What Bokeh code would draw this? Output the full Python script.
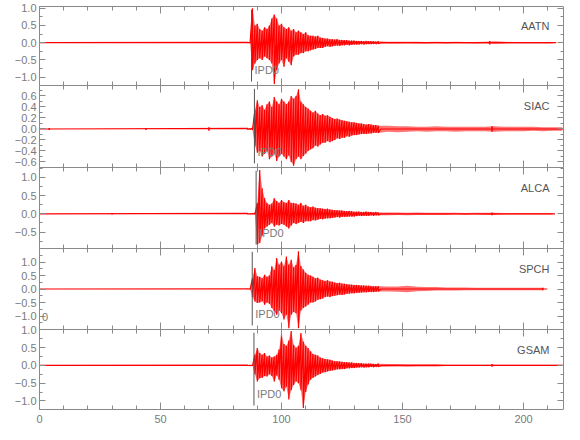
from bokeh.plotting import figure
from bokeh.layouts import column
from bokeh.models import Range1d, FixedTicker, LinearAxis, Label, CustomJSTickFormatter
from bokeh.embed import file_html
from bokeh.resources import INLINE

# ---------------- data ----------------
STATIONS = ["AATN", "SIAC", "ALCA", "SPCH", "GSAM"]
PICK_LABEL = "IPD0"
PICK_TIMES = [87.6, 88.8, 89.5, 87.9, 88.6]
TRACE_END = [213.5, 216.5, 213.0, 209.8, 216.5]
X_LIMITS = (0, 216.5)
X_TICKS = [0, 50, 100, 150, 200]
X_MINOR = [10, 20, 30, 40, 60, 70, 80, 90, 110, 120, 130, 140, 160, 170, 180, 190, 210]

Y_LIMITS = [(-1.24, 1.05), (-0.70, 0.79), (-0.95, 1.27), (-1.5, 1.5), (-1.24, 1.01)]
Y_MAJOR = [[-1.0, -0.5, 0.0, 0.5, 1.0],
           [-0.6, -0.4, -0.2, 0.0, 0.2, 0.4, 0.6],
           [-0.5, 0.0, 0.5, 1.0],
           [-1.0, -0.5, 0.0, 0.5, 1.0],
           [-1.0, -0.5, 0.0, 0.5, 1.0]]
Y_MINOR = [[-0.75, -0.25, 0.25, 0.75],
           [-0.5, -0.3, -0.1, 0.1, 0.3, 0.5, 0.7],
           [-0.75, -0.25, 0.25, 0.75, 1.25],
           [-1.25, -0.75, -0.25, 0.25, 0.75, 1.25],
           [-0.75, -0.25, 0.25, 0.75]]

# sample times of the amplitude readings (s): 1 s in the strong part, 4 s in the coda
TIMES = list(range(86, 141)) + list(range(144, 217, 4))
DENSE_END = 140

UP_AATN = [0.01, 0.02, 1.00, 0.50, 0.55, 0.40, 0.35, 0.45, 0.40, 0.50,
           0.70, 0.82, 0.70, 0.50, 0.55, 0.45, 0.40, 0.45, 0.35, 0.40,
           0.30, 0.35, 0.30, 0.25, 0.30, 0.22, 0.20, 0.20, 0.18, 0.20,
           0.15, 0.14, 0.12, 0.12, 0.10, 0.10, 0.09, 0.10, 0.08, 0.08,
           0.07, 0.07, 0.06, 0.06, 0.06, 0.05, 0.05, 0.05, 0.04, 0.05,
           0.04, 0.04, 0.04, 0.03, 0.04,
           0.03, 0.03, 0.03, 0.03, 0.02, 0.03, 0.02, 0.03, 0.02, 0.02,
           0.03, 0.04, 0.03, 0.02, 0.02, 0.02, 0.02, 0.02, 0.02]
DN_AATN = [-0.01, -0.02, -0.80, -0.60, -0.50, -0.45, -0.50, -0.40, -0.45, -0.50,
           -0.60, -1.20, -0.80, -0.60, -0.50, -0.70, -0.45, -0.55, -0.65, -0.40,
           -0.35, -0.35, -0.30, -0.30, -0.25, -0.25, -0.22, -0.20, -0.18, -0.15,
           -0.15, -0.15, -0.12, -0.10, -0.12, -0.10, -0.09, -0.08, -0.09, -0.07,
           -0.07, -0.06, -0.07, -0.06, -0.05, -0.05, -0.05, -0.04, -0.05, -0.04,
           -0.04, -0.04, -0.03, -0.04, -0.03,
           -0.03, -0.03, -0.02, -0.03, -0.03, -0.02, -0.03, -0.02, -0.02, -0.03,
           -0.02, -0.04, -0.03, -0.02, -0.02, -0.02, -0.02, -0.02, -0.02]

UP_SIAC = [0.01, 0.01, 0.02, 0.35, 0.52, 0.40, 0.43, 0.35, 0.45, 0.50,
           0.40, 0.58, 0.50, 0.45, 0.55, 0.50, 0.45, 0.50, 0.60, 0.55,
           0.60, 0.72, 0.50, 0.45, 0.40, 0.37, 0.33, 0.30, 0.33, 0.28,
           0.25, 0.27, 0.24, 0.25, 0.22, 0.20, 0.18, 0.19, 0.17, 0.16,
           0.15, 0.14, 0.13, 0.12, 0.12, 0.11, 0.10, 0.10, 0.09, 0.08,
           0.09, 0.08, 0.07, 0.07, 0.06,
           0.06, 0.05, 0.05, 0.04, 0.04, 0.05, 0.04, 0.04, 0.04, 0.04,
           0.04, 0.05, 0.04, 0.04, 0.04, 0.04, 0.03, 0.03, 0.03]
DN_SIAC = [-0.01, -0.01, -0.02, -0.30, -0.43, -0.40, -0.50, -0.45, -0.40, -0.55,
           -0.50, -0.45, -0.58, -0.50, -0.45, -0.50, -0.55, -0.48, -0.60, -0.67,
           -0.55, -0.50, -0.55, -0.49, -0.45, -0.40, -0.37, -0.35, -0.30, -0.32,
           -0.28, -0.25, -0.25, -0.22, -0.24, -0.22, -0.20, -0.17, -0.18, -0.16,
           -0.16, -0.13, -0.14, -0.12, -0.11, -0.11, -0.10, -0.09, -0.09, -0.09,
           -0.08, -0.08, -0.07, -0.07, -0.07,
           -0.05, -0.06, -0.05, -0.04, -0.05, -0.04, -0.04, -0.05, -0.04, -0.04,
           -0.04, -0.05, -0.04, -0.04, -0.04, -0.03, -0.04, -0.03, -0.03]

UP_ALCA = [0.01, 0.01, 0.01, 0.02, 0.30, 1.20, 0.70, 0.43, 0.30, 0.25,
           0.28, 0.43, 0.35, 0.30, 0.38, 0.32, 0.30, 0.38, 0.30, 0.30,
           0.28, 0.25, 0.30, 0.22, 0.25, 0.20, 0.18, 0.20, 0.17, 0.16,
           0.15, 0.14, 0.13, 0.14, 0.12, 0.11, 0.10, 0.10, 0.09, 0.09,
           0.08, 0.07, 0.08, 0.07, 0.06, 0.06, 0.06, 0.05, 0.05, 0.06,
           0.05, 0.05, 0.04, 0.05, 0.04,
           0.04, 0.04, 0.03, 0.04, 0.03, 0.03, 0.03, 0.03, 0.02, 0.03,
           0.03, 0.03, 0.02, 0.02, 0.02, 0.02, 0.02, 0.02, 0.02]
DN_ALCA = [-0.01, -0.01, -0.01, -0.02, -0.85, -0.80, -0.60, -0.40, -0.35, -0.30,
           -0.25, -0.35, -0.30, -0.32, -0.28, -0.30, -0.35, -0.40, -0.32, -0.25,
           -0.28, -0.25, -0.22, -0.25, -0.20, -0.20, -0.20, -0.17, -0.18, -0.16,
           -0.14, -0.15, -0.13, -0.12, -0.12, -0.11, -0.10, -0.09, -0.10, -0.08,
           -0.08, -0.08, -0.07, -0.07, -0.07, -0.06, -0.05, -0.06, -0.05, -0.05,
           -0.05, -0.04, -0.05, -0.04, -0.04,
           -0.04, -0.03, -0.04, -0.03, -0.03, -0.03, -0.03, -0.02, -0.03, -0.02,
           -0.03, -0.03, -0.02, -0.02, -0.02, -0.02, -0.02, -0.02, -0.02]

UP_SPCH = [0.01, 0.02, 0.40, 0.78, 0.47, 0.45, 0.40, 0.53, 0.45, 0.50,
           0.84, 0.70, 1.15, 0.90, 1.02, 0.85, 1.20, 0.90, 1.08, 0.80,
           0.90, 1.40, 0.85, 0.72, 0.60, 0.53, 0.50, 0.45, 0.40, 0.42,
           0.35, 0.32, 0.30, 0.32, 0.28, 0.27, 0.24, 0.22, 0.23, 0.20,
           0.19, 0.18, 0.17, 0.16, 0.15, 0.15, 0.14, 0.13, 0.13, 0.12,
           0.12, 0.11, 0.10, 0.10, 0.10,
           0.09, 0.09, 0.12, 0.08, 0.07, 0.07, 0.06, 0.06, 0.06, 0.05,
           0.05, 0.05, 0.05, 0.05, 0.05, 0.05, 0.05, 0.05, 0.05]
DN_SPCH = [-0.01, -0.02, -0.30, -0.46, -0.52, -0.50, -0.45, -0.58, -0.50, -0.55,
           -0.70, -0.83, -0.95, -0.80, -0.90, -1.13, -0.95, -1.45, -0.95, -0.85,
           -0.90, -1.45, -0.80, -0.70, -0.65, -0.58, -0.50, -0.50, -0.46, -0.40,
           -0.38, -0.35, -0.30, -0.28, -0.30, -0.26, -0.25, -0.23, -0.21, -0.22,
           -0.20, -0.18, -0.17, -0.16, -0.16, -0.14, -0.14, -0.13, -0.12, -0.12,
           -0.11, -0.11, -0.11, -0.10, -0.09,
           -0.09, -0.10, -0.12, -0.08, -0.07, -0.06, -0.06, -0.06, -0.05, -0.05,
           -0.05, -0.05, -0.05, -0.05, -0.05, -0.05, -0.05, -0.05, -0.05]

UP_GSAM = [0.01, 0.01, 0.01, 0.30, 0.49, 0.35, 0.30, 0.35, 0.25, 0.28,
           0.22, 0.25, 0.30, 0.45, 0.86, 0.60, 0.55, 0.70, 0.97, 0.58,
           0.50, 0.55, 0.91, 0.67, 0.55, 0.49, 0.40, 0.32, 0.30, 0.28,
           0.22, 0.20, 0.18, 0.17, 0.16, 0.14, 0.12, 0.12, 0.11, 0.10,
           0.09, 0.09, 0.08, 0.08, 0.07, 0.07, 0.06, 0.06, 0.05, 0.05,
           0.05, 0.05, 0.04, 0.04, 0.05,
           0.04, 0.04, 0.03, 0.03, 0.03, 0.03, 0.02, 0.02, 0.02, 0.02,
           0.02, 0.02, 0.02, 0.02, 0.02, 0.02, 0.02, 0.02, 0.02]
DN_GSAM = [-0.01, -0.01, -0.01, -0.25, -0.45, -0.36, -0.35, -0.30, -0.31, -0.25,
           -0.30, -0.45, -0.28, -0.40, -0.64, -0.73, -0.60, -0.96, -0.70, -0.55,
           -0.45, -0.50, -0.70, -1.20, -0.75, -0.54, -0.40, -0.35, -0.31, -0.27,
           -0.24, -0.20, -0.19, -0.17, -0.15, -0.14, -0.13, -0.11, -0.11, -0.10,
           -0.10, -0.08, -0.08, -0.07, -0.07, -0.06, -0.06, -0.05, -0.06, -0.05,
           -0.05, -0.04, -0.05, -0.04, -0.04,
           -0.04, -0.03, -0.04, -0.03, -0.03, -0.03, -0.02, -0.02, -0.02, -0.02,
           -0.02, -0.02, -0.02, -0.02, -0.02, -0.02, -0.02, -0.02, -0.02]

UPS = [UP_AATN, UP_SIAC, UP_ALCA, UP_SPCH, UP_GSAM]
DNS = [DN_AATN, DN_SIAC, DN_ALCA, DN_SPCH, DN_GSAM]

# isolated small wavelets outside the main arrival (time, half amplitude)
BLIP_T = [[186], [4, 44, 70, 187], [30, 187], [208], [187]]
BLIP_A = [[0.05], [0.02, 0.02, 0.03, 0.05], [0.02, 0.04], [0.05], [0.04]]

STRAY_TEXT = "0"
STRAY_POS = (2.3, -1.04)   # in SPCH panel

# ---------------- styling ----------------
FONT = "Liberation Sans"
FRAME_COL = "#8a8a8a"
TICK_LABEL_COL = "#7a7a7a"
FRAME_H = [79, 82, 81, 81, 80]
FRAME_W = 524
BLANK = CustomJSTickFormatter(code="return ''")

xr = Range1d(*X_LIMITS)
figs = []
n = len(STATIONS)
for i in range(n):
    lo, hi = Y_LIMITS[i]
    last = (i == n - 1)
    p = figure(frame_width=FRAME_W, frame_height=FRAME_H[i],
               x_range=xr, y_range=Range1d(lo, hi),
               output_backend="svg", toolbar_location=None,
               min_border_left=31, min_border_right=9,
               min_border_top=8, min_border_bottom=(26 if last else 8))
    p.border_fill_color = None
    p.outline_line_color = None
    p.grid.visible = False
    p.margin = (-2, 0, 0, 8) if i == 0 else (-16, 0, 0, 8)

    xt = FixedTicker(ticks=X_TICKS, minor_ticks=X_MINOR)
    yt = FixedTicker(ticks=Y_MAJOR[i], minor_ticks=Y_MINOR[i])

    def style_x(ax, labels, line):
        ax.ticker = xt
        ax.axis_line_color = FRAME_COL if line else None
        ax.major_tick_line_color = FRAME_COL
        ax.minor_tick_line_color = FRAME_COL
        ax.major_tick_in = 7
        ax.major_tick_out = 0
        ax.minor_tick_in = 4
        ax.minor_tick_out = 0
        if labels:
            ax.major_label_text_font = FONT
            ax.major_label_text_font_size = "11px"
            ax.major_label_text_color = TICK_LABEL_COL
            ax.major_label_standoff = 5
        else:
            ax.formatter = BLANK
            ax.major_label_text_font_size = "1px"
            ax.major_label_standoff = 0

    def style_y(ax, labels):
        ax.ticker = yt
        ax.axis_line_color = FRAME_COL
        ax.major_tick_line_color = FRAME_COL
        ax.minor_tick_line_color = FRAME_COL
        ax.major_tick_in = 6
        ax.major_tick_out = 0
        ax.minor_tick_in = 3
        ax.minor_tick_out = 0
        if labels:
            ax.major_label_text_font = FONT
            ax.major_label_text_font_size = "11px"
            ax.major_label_text_color = TICK_LABEL_COL
            ax.major_label_standoff = 3
            ax.major_label_overrides = {v: ("%.1f" % v).replace("-", "\u2212")
                                        for v in Y_MAJOR[i]}
        else:
            ax.formatter = BLANK
            ax.major_label_text_font_size = "1px"
            ax.major_label_standoff = 0

    style_x(p.xaxis[0], labels=last, line=last)
    style_y(p.yaxis[0], labels=True)
    top = LinearAxis()
    style_x(top, labels=False, line=True)
    p.add_layout(top, "above")
    right = LinearAxis()
    style_y(right, labels=False)
    p.add_layout(right, "right")

    # seismogram: envelope band over the whole record, oscillation in the strong part
    end = TRACE_END[i]
    tt = [t for t in TIMES if t <= end]
    up = UPS[i][:len(tt)]
    dn = DNS[i][:len(tt)]
    p.varea(x=tt, y1=dn, y2=up, fill_color="#ff0000", fill_alpha=0.55)
    xs, ys = [X_LIMITS[0]], [0.0]
    for t, u, d in zip(tt, up, dn):
        if t <= DENSE_END:
            xs += [t, t]
            ys += [u, d]
    xs += [DENSE_END + 1, end]
    ys += [0.0, 0.0]
    p.line(xs, ys, line_color="#ff0000", line_width=1.2)
    p.segment(x0=BLIP_T[i], y0=[-a for a in BLIP_A[i]],
              x1=BLIP_T[i], y1=BLIP_A[i], line_color="#ff0000", line_width=1.5)

    # phase pick marker
    span = hi - lo
    tp = PICK_TIMES[i]
    p.segment(x0=[tp], y0=[lo + 0.05 * span], x1=[tp], y1=[hi - 0.04 * span],
              line_color="#555555", line_width=1)
    p.add_layout(Label(x=tp, y=lo + 0.115 * span, x_offset=3, text=PICK_LABEL,
                       text_font=FONT, text_font_size="11px",
                       text_color="#7a7a7a", text_baseline="bottom"))
    # station name
    p.add_layout(Label(x=X_LIMITS[1] - 5.8, y=hi - 0.25 * span, text=STATIONS[i],
                       text_font=FONT, text_font_size="11px", text_color="#555555",
                       text_align="right", text_baseline="middle"))
    if i == 3:
        p.add_layout(Label(x=STRAY_POS[0], y=STRAY_POS[1], text=STRAY_TEXT,
                           text_font=FONT, text_font_size="11px",
                           text_color=TICK_LABEL_COL, text_align="center",
                           text_baseline="middle"))
    figs.append(p)

layout = column(*figs, spacing=0)
open("out.html", "w").write(file_html(layout, INLINE))
